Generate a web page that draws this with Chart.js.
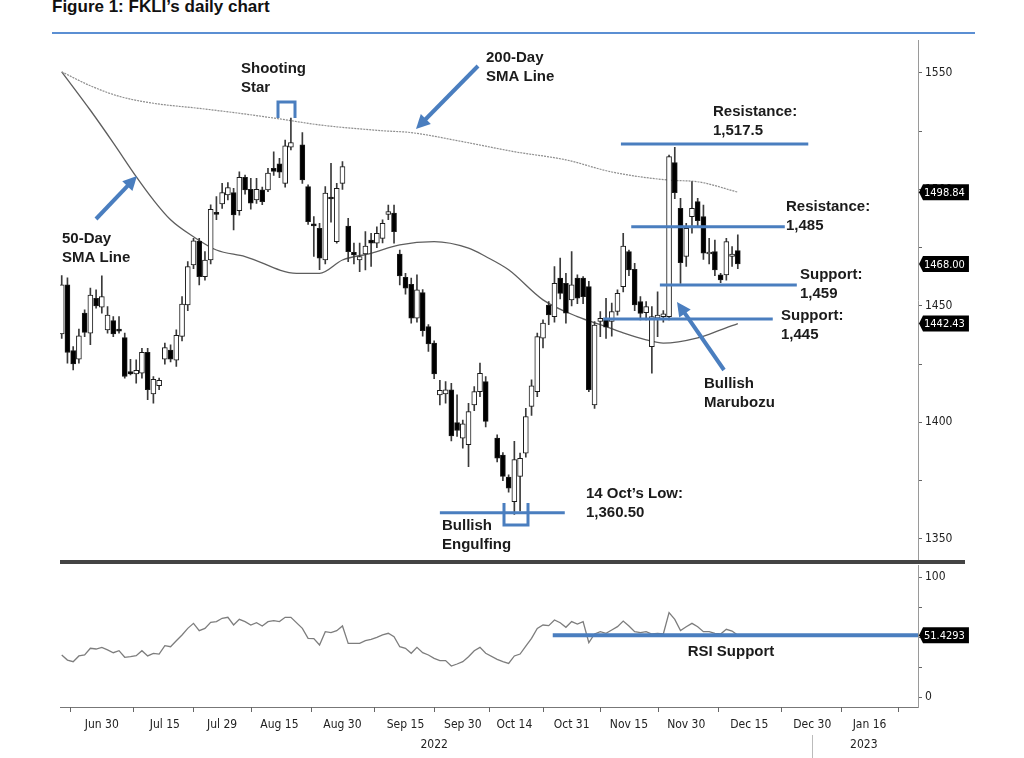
<!DOCTYPE html>
<html>
<head>
<meta charset="utf-8">
<script src="https://cdn.jsdelivr.net/npm/chart.js@4.4.0/dist/chart.umd.min.js"></script>
<style>
  body { margin: 0; background: #fff; width: 1024px; height: 758px; overflow: hidden; position: relative; }
  #title { position: absolute; left: 52px; top: -2px; font: bold 17px/17px "Liberation Sans", Arial, sans-serif; color: #111; }
  #rule { position: absolute; left: 52px; top: 32px; width: 923px; height: 2px; background: #5b8fd3; }
  #main { position: absolute; left: 0; top: 0; }
  #rsi { position: absolute; left: 0; top: 550px; }
  #sep { position: absolute; left: 60px; top: 560px; width: 905px; height: 4px; background: #444; }
</style>
</head>
<body>
<div id="title">Figure 1: FKLI’s daily chart</div>
<div id="rule"></div>
<canvas id="main" width="1024" height="571"></canvas>
<canvas id="rsi" width="1024" height="208"></canvas>
<div id="sep"></div>

<script>
// daily candles, in trading order
var opens = [1438, 1459, 1430.8, 1427.1, 1446.9, 1438.3, 1453.3, 1449.4, 1439.7, 1443.7,
  1439.5, 1436.4, 1421.8, 1420.8, 1421.1, 1430.1, 1412.2, 1415.7, 1427.1, 1431,
  1426.7, 1436.9, 1450.4, 1467.6, 1477.8, 1462.6, 1469.7, 1489.8, 1493.8, 1497.6,
  1498.6, 1490.9, 1505.2, 1500.1, 1495.5, 1499.8, 1499.8, 1509.1, 1511, 1502.6,
  1518.2,
  1519.1, 1501.2, 1485.2, 1483.3, 1469.7, 1496.5, 1477.6, 1502.6, 1484.3,
  1473, 1469.7, 1472.3, 1478.3, 1476.9, 1479, 1489.3, 1489.8, 1472.3,
  1462.3, 1459.3, 1444.7, 1455.7, 1441.1, 1434, 1411.8, 1412.2, 1414, 1399.9,
  1393.2, 1390.4, 1407.5, 1413.2, 1417.5, 1393.2, 1386, 1376.5, 1366, 1376.8,
  1386.8, 1406.8, 1413.2, 1436.1, 1450.4, 1445.4, 1461.9, 1459.7, 1452.6, 1461.9,
  1461.9, 1458.3, 1407.5, 1443.3, 1444, 1443.3, 1447.6, 1458.3, 1473.3, 1465.7,
  1451.9, 1447.1, 1432.5, 1444.7, 1445.4, 1445.4, 1511.5, 1491.9, 1471.2, 1488.3,
  1494.8, 1488.3, 1472.3, 1473.3, 1463.3, 1463.3, 1471.2, 1473.7];
var highs = [1463, 1462, 1432.5, 1440, 1448.3, 1457.6, 1456.9, 1462.9, 1449.7, 1445.4,
  1445.4, 1438.3, 1427.1, 1426.8, 1431.8, 1431.8, 1419.7, 1419, 1434, 1433.3,
  1439.7, 1454, 1469, 1479, 1479, 1473.3, 1493.4, 1496.9, 1502.6, 1502.9,
  1500.5, 1507.6, 1506.2, 1504.8, 1504.8, 1501, 1509.1, 1516.2, 1513.4, 1521.2,
  1530.6,
  1524.4, 1502, 1488.3, 1485.5, 1501.2, 1511.2, 1502.6, 1512, 1487.6,
  1477, 1477, 1481.9, 1481.2, 1484, 1486.9, 1493.3, 1493.3, 1474,
  1464, 1461.9, 1463.3, 1457, 1442, 1435, 1418, 1417.5, 1416.8, 1411.8,
  1401, 1408.2, 1415.4, 1425.4, 1419.7, 1394.6, 1387, 1377.5, 1391.8, 1386.8,
  1406, 1418.3, 1438.3, 1444, 1451.9, 1466.9, 1470.5, 1464, 1473.3, 1463.3,
  1462.6, 1460.5, 1443.3, 1447.6, 1453.3, 1451.2, 1456.9, 1481.2, 1474, 1468.3,
  1454, 1451.9, 1449.7, 1456, 1448, 1514.8, 1518.1, 1496.2, 1485.5, 1503.4,
  1496.2, 1493.3, 1479, 1478.3, 1464, 1479, 1475.5, 1480.5];
var lows = [1436, 1425.4, 1422.5, 1425.4, 1436.8, 1433.3, 1449, 1446.9, 1438.3, 1436.8,
  1438.3, 1419, 1420.4, 1416.8, 1419, 1409.7, 1408.2, 1414, 1425, 1426,
  1424, 1435, 1448, 1466, 1459, 1461, 1468, 1487, 1491.9, 1495.5,
  1482.6, 1489, 1498, 1491.5, 1494, 1493.5, 1499, 1506, 1505, 1501,
  1517,
  1502.6, 1485, 1471.2, 1465.5, 1468, 1486, 1476.9, 1500, 1469,
  1468, 1464.7, 1465.4, 1466.9, 1475, 1477, 1487, 1476.9, 1459,
  1455, 1442.6, 1443, 1437, 1430.5, 1418.8, 1407.5, 1408.2, 1392, 1394,
  1388.9, 1381, 1405, 1411, 1398, 1383, 1375, 1370, 1360.5, 1362,
  1385, 1403, 1411, 1432, 1441.9, 1443, 1453, 1442.6, 1450, 1451,
  1451, 1413.2, 1406, 1436.8, 1436, 1437, 1446, 1456, 1463, 1448,
  1444, 1444, 1421.1, 1436.8, 1443, 1444, 1496, 1459.7, 1466.9, 1481.2,
  1484, 1470, 1468, 1463, 1460, 1461, 1467, 1466];
var closes = [1459, 1430, 1425.1, 1437.1, 1438.6, 1454.6, 1450, 1454, 1446.1, 1438,
  1439.2, 1419.7, 1420.8, 1422.3, 1430.1, 1414, 1418.5, 1418, 1432.1, 1427.1,
  1437.4, 1450.8, 1466.9, 1477.9, 1462.5, 1469.7, 1491.5, 1489.3, 1498.6, 1500.8,
  1489.1, 1505.2, 1499.8, 1494.1, 1500.1, 1494.8, 1507, 1507.7, 1507.4, 1518.7,
  1520.1,
  1504.1, 1486.2, 1484.3, 1470.5, 1498.4, 1495.9, 1500.5, 1509.8, 1473.3,
  1471.9, 1471.2, 1475.7, 1476.9, 1481.2, 1485.5, 1490.5, 1481.9, 1462.9,
  1457.6, 1444.7, 1456.9, 1439.4, 1433.7, 1420.8, 1413.7, 1414, 1394.2, 1396.5,
  1399.4, 1404.6, 1413.2, 1421.1, 1400.4, 1384.6, 1376.8, 1371.7, 1384, 1384.6,
  1402.5, 1415.7, 1436.8, 1442.6, 1446.1, 1459.7, 1455.4, 1446.9, 1459, 1453.3,
  1454, 1414, 1441.8, 1444.7, 1440.9, 1447.6, 1455.4, 1475.7, 1465.4, 1450.4,
  1446.8, 1449.7, 1445.4, 1446.1, 1446.6, 1514.1, 1498.6, 1468.6, 1483.3, 1491.9,
  1486.6, 1472.6, 1473, 1465.4, 1461.1, 1477.6, 1472.3, 1468];
// RSI, one value per candle
var rsi = [35, 30.8, 29.4, 34.2, 35, 40.6, 40, 41.4, 39.2, 36.9,
  38.6, 33.1, 33.6, 34.4, 38.6, 34.2, 36.4, 35.8, 42.8, 41.9,
  46.9, 51.7, 57.2, 61.4, 55.3, 57.2, 62.2, 62.8, 65.6, 66.4,
  60, 64.7, 62.8, 60, 61.9, 59.2, 62.8, 63.6, 62.8, 66.4,
  66.4,
  57.2, 48.9, 48.6, 43.3, 54.4, 53.6, 55.3, 59.2, 44.7,
  44.7, 44.7, 46.9, 48, 49.7, 51.7, 53.1, 50.3, 41.9,
  40.6, 36.4, 41.4, 36.9, 35, 32.2, 30.3, 30.3, 25.8, 27.5,
  29.4, 33.6, 38.6, 41.4, 36.4,
  31.4, 29.4, 28, 34.2, 35.8, 42.5, 48.9, 57.2, 60, 59.5,
  64.2, 61.9, 58.1, 62.8, 60.8, 62.8, 45.3, 52.5, 54.4, 53.1,
  55.8, 58.6, 63.3, 59.2, 54.4, 53.6, 54.4, 52.5, 53.1, 52.5,
  70.3, 64.7, 55.3, 58.6, 61.4, 58.6, 54.4, 54.4, 53.1, 52.5,
  56.4, 55, 51.4293];
// empty trading slots on the axis (holidays)
var gapSlots = [41, 75];

var sma50Slots = [0, 5, 9, 13, 16, 19, 23, 27, 32, 41, 45, 49, 54, 59, 65, 71, 74, 78, 84, 90, 95, 98, 102, 105, 111, 115, 118];
var sma50 = [1550.5, 1534, 1520, 1505.5, 1495.5, 1487, 1479.7, 1474, 1471.2, 1464, 1464, 1469.7, 1472.6, 1476.2,
  1477.6, 1474.8, 1471.2, 1465.5, 1452.6, 1445.4, 1441.1, 1438.4, 1435.4, 1434, 1436.3, 1439.7, 1442.43];
var sma200Slots = [0, 5, 10, 16, 24, 31, 38, 45, 56, 61, 70, 79, 88, 96, 106, 111, 118];
var sma200 = [1550.5, 1544.5, 1540, 1537, 1534.8, 1532.7, 1530.3, 1527.7, 1525.2, 1524.4, 1520.5, 1516.2,
  1512.7, 1507.5, 1504, 1503.3, 1498.84];

var tickSlots = [7, 18, 28, 38, 49, 60, 70, 79, 89, 99, 109, 120, 131, 141];
var tickLabels = ['Jun 30', 'Jul 15', 'Jul 29', 'Aug 15', 'Aug 30', 'Sep 15', 'Sep 30', 'Oct 14', 'Oct 31',
  'Nov 15', 'Nov 30', 'Dec 15', 'Dec 30', 'Jan 16'];
var yearSlots = [65, 140];
var yearLabels = ['2022', '2023'];
var priceTicks = [1350, 1375, 1400, 1425, 1450, 1475, 1500, 1525, 1550];
var rsiTicks = [0, 25, 50, 75, 100];

// analyst's drawn levels: price, from slot, to slot
var levels = [
  { value: 1519.5, from: 97.6, to: 130.3 },
  { value: 1484, from: 99.4, to: 126.2 },
  { value: 1459, from: 104.4, to: 128.3 },
  { value: 1444.4, from: 94.5, to: 124.1 },
  { value: 1361.2, from: 66, to: 87.8 }
];
var rsiSupport = { value: 51.4, from: 85.7 };

var slots = [];
for (var s = 0; slots.length < closes.length; s++) {
  if (gapSlots.indexOf(s) < 0) slots.push(s);
}

var xMin = -0.3, xMax = 149.45;
var blue = '#4a7ebf';
var axisFont = { family: '"Liberation Sans Narrow", "DejaVu Sans Condensed", "Liberation Sans", sans-serif', size: 12 };
var noteFont = 'bold 15px "Liberation Sans", Arial, sans-serif';
Chart.defaults.color = '#222';
Chart.defaults.font = axisFont;

function arrow(ctx, x1, y1, x2, y2) {
  var a = Math.atan2(y2 - y1, x2 - x1), h = 14, w = 7;
  ctx.strokeStyle = blue;
  ctx.fillStyle = blue;
  ctx.lineWidth = 4;
  ctx.beginPath();
  ctx.moveTo(x1, y1);
  ctx.lineTo(x2 - Math.cos(a) * h * 0.8, y2 - Math.sin(a) * h * 0.8);
  ctx.stroke();
  ctx.beginPath();
  ctx.moveTo(x2, y2);
  ctx.lineTo(x2 - h * Math.cos(a) + w * Math.sin(a), y2 - h * Math.sin(a) - w * Math.cos(a));
  ctx.lineTo(x2 - h * Math.cos(a) - w * Math.sin(a), y2 - h * Math.sin(a) + w * Math.cos(a));
  ctx.closePath();
  ctx.fill();
}

function valueBox(ctx, xl, yc, txt) {
  ctx.font = '11px ' + axisFont.family;
  var w = ctx.measureText(txt).width;
  ctx.fillStyle = '#000';
  ctx.beginPath();
  ctx.moveTo(xl + 1, yc);
  ctx.lineTo(xl + 5, yc - 8);
  ctx.lineTo(xl + w + 10, yc - 8);
  ctx.lineTo(xl + w + 10, yc + 8);
  ctx.lineTo(xl + 5, yc + 8);
  ctx.closePath();
  ctx.fill();
  ctx.fillStyle = '#fff';
  ctx.textAlign = 'left';
  ctx.textBaseline = 'middle';
  ctx.fillText(txt, xl + 6, yc + 1);
}

function notes(ctx, list) {
  ctx.font = noteFont;
  ctx.fillStyle = '#1b1b1b';
  ctx.textAlign = 'left';
  ctx.textBaseline = 'alphabetic';
  list.forEach(function (n) {
    n.lines.forEach(function (t, k) { ctx.fillText(t, n.x, n.y + k * 19); });
  });
}

// annotations on the price panel
var priceNotes = {
  id: 'priceNotes',
  afterDraw: function (chart) {
    var ctx = chart.ctx, x = chart.scales.x, y = chart.scales.y;
    ctx.save();
    ctx.strokeStyle = blue;
    ctx.lineWidth = 3;
    levels.forEach(function (l) {
      var py = y.getPixelForValue(l.value);
      ctx.beginPath();
      ctx.moveTo(x.getPixelForValue(l.from), py);
      ctx.lineTo(x.getPixelForValue(l.to), py);
      ctx.stroke();
    });
    // shooting star bracket
    ctx.beginPath();
    ctx.moveTo(278, 118); ctx.lineTo(278, 102); ctx.lineTo(295, 102); ctx.lineTo(295, 118);
    ctx.stroke();
    // 14 Oct low bracket
    ctx.beginPath();
    ctx.moveTo(504, 503); ctx.lineTo(504, 525); ctx.lineTo(528, 525); ctx.lineTo(528, 503);
    ctx.stroke();

    arrow(ctx, 478, 66, 416, 129);
    arrow(ctx, 96, 219, 137, 176);
    arrow(ctx, 724, 370, 677, 302);

    notes(ctx, [
      { lines: ['Shooting', 'Star'], x: 241, y: 73 },
      { lines: ['200-Day', 'SMA Line'], x: 486, y: 62 },
      { lines: ['50-Day', 'SMA Line'], x: 62, y: 243 },
      { lines: ['Resistance:', '1,517.5'], x: 713, y: 116 },
      { lines: ['Resistance:', '1,485'], x: 786, y: 211 },
      { lines: ['Support:', '1,459'], x: 800, y: 279 },
      { lines: ['Support:', '1,445'], x: 781, y: 320 },
      { lines: ['Bullish', 'Marubozu'], x: 704, y: 388 },
      { lines: ['14 Oct’s Low:', '1,360.50'], x: 586, y: 498 },
      { lines: ['Bullish', 'Engulfing'], x: 442, y: 530 }
    ]);

    var right = chart.chartArea.right;
    valueBox(ctx, right, y.getPixelForValue(sma200[sma200.length - 1]), sma200[sma200.length - 1].toFixed(2));
    valueBox(ctx, right, y.getPixelForValue(closes[closes.length - 1]), closes[closes.length - 1].toFixed(2));
    valueBox(ctx, right, y.getPixelForValue(sma50[sma50.length - 1]), sma50[sma50.length - 1].toFixed(2));
    ctx.restore();
  }
};

var rsiNotes = {
  id: 'rsiNotes',
  afterDraw: function (chart) {
    var ctx = chart.ctx, x = chart.scales.x, y = chart.scales.y, area = chart.chartArea;
    ctx.save();
    var py = y.getPixelForValue(rsiSupport.value);
    ctx.strokeStyle = blue;
    ctx.lineWidth = 4;
    ctx.beginPath();
    ctx.moveTo(x.getPixelForValue(rsiSupport.from), py);
    ctx.lineTo(area.right, py);
    ctx.stroke();

    ctx.font = noteFont;
    ctx.fillStyle = '#1b1b1b';
    ctx.textAlign = 'center';
    ctx.fillText('RSI Support', 731, 106);

    // small ticks between the date labels
    ctx.strokeStyle = '#666';
    ctx.lineWidth = 1;
    var step = tickSlots[1] - tickSlots[0];
    var marks = [tickSlots[0] - step / 2];
    for (var i = 0; i < tickSlots.length; i++) {
      var nxt = i + 1 < tickSlots.length ? tickSlots[i + 1] : tickSlots[i] + 10;
      marks.push((tickSlots[i] + nxt) / 2);
    }
    marks.forEach(function (m) {
      var px = Math.round(x.getPixelForValue(m)) + 0.5;
      if (px < area.left || px > area.right) return;
      ctx.beginPath();
      ctx.moveTo(px, area.bottom);
      ctx.lineTo(px, area.bottom + 5);
      ctx.stroke();
    });

    ctx.font = '12px ' + axisFont.family;
    ctx.fillStyle = '#222';
    ctx.textAlign = 'center';
    ctx.textBaseline = 'middle';
    yearLabels.forEach(function (t, k) {
      ctx.fillText(t, x.getPixelForValue(yearSlots[k]), area.bottom + 38);
    });
    var sx = Math.round(x.getPixelForValue(tickSlots[12])) + 0.5;
    ctx.strokeStyle = '#bbb';
    ctx.beginPath();
    ctx.moveTo(sx, area.bottom + 28);
    ctx.lineTo(sx, chart.height);
    ctx.stroke();

    valueBox(ctx, area.right, y.getPixelForValue(rsi[rsi.length - 1]), rsi[rsi.length - 1].toFixed(4));
    ctx.restore();
  }
};

window.onload = function () {
  new Chart(document.getElementById('main'), {
    type: 'bar',
    data: {
      datasets: [{
        type: 'line',
        data: sma200Slots.map(function (s, i) { return { x: s, y: sma200[i] }; }),
        borderColor: '#8e8e8e',
        borderWidth: 1.2,
        borderDash: [2, 1],
        pointRadius: 0,
        cubicInterpolationMode: 'monotone',
        order: 3
      }, {
        type: 'line',
        data: sma50Slots.map(function (s, i) { return { x: s, y: sma50[i] }; }),
        borderColor: '#5e5e5e',
        borderWidth: 1.3,
        pointRadius: 0,
        cubicInterpolationMode: 'monotone',
        order: 3
      }, {
        // wicks
        data: slots.map(function (s, i) { return { x: s, y: [lows[i], highs[i]] }; }),
        backgroundColor: '#3a3a3a',
        barThickness: 1,
        grouped: false,
        order: 2
      }, {
        // bodies
        data: slots.map(function (s, i) { return { x: s, y: [opens[i], closes[i]] }; }),
        backgroundColor: closes.map(function (c, i) { return c >= opens[i] ? '#fff' : '#000'; }),
        borderColor: '#1a1a1a',
        borderWidth: 1,
        borderSkipped: false,
        barThickness: 5,
        minBarLength: 2,
        grouped: false,
        order: 1
      }]
    },
    options: {
      responsive: false,
      animation: false,
      devicePixelRatio: 1,
      layout: { padding: { left: 60, top: 40, right: 0, bottom: 10 } },
      plugins: { legend: { display: false }, tooltip: { enabled: false } },
      scales: {
        x: { type: 'linear', display: false, min: xMin, max: xMax, offset: false },
        y: {
          position: 'right',
          min: 1340.56,
          max: 1564.16,
          afterFit: function (scale) { scale.width = 106; },
          afterBuildTicks: function (scale) {
            scale.ticks = priceTicks.map(function (v) { return { value: v }; });
          },
          grid: { drawOnChartArea: false, tickLength: 4, color: '#666' },
          border: { color: '#9a9a9a' },
          ticks: {
            padding: 3,
            autoSkip: false,
            callback: function (v) { return v % 50 === 0 ? v : ''; }
          }
        }
      }
    },
    plugins: [priceNotes]
  });

  new Chart(document.getElementById('rsi'), {
    type: 'line',
    data: {
      datasets: [{
        data: slots.map(function (s, i) { return { x: s, y: rsi[i] }; }),
        borderColor: '#7d7d7d',
        borderWidth: 1.3,
        pointRadius: 0
      }]
    },
    options: {
      responsive: false,
      animation: false,
      devicePixelRatio: 1,
      layout: { padding: { left: 60, top: 15, right: 0, bottom: 0 } },
      plugins: { legend: { display: false }, tooltip: { enabled: false } },
      scales: {
        x: {
          type: 'linear',
          min: xMin,
          max: xMax,
          offset: false,
          afterFit: function (scale) { scale.height = 51; },
          afterBuildTicks: function (scale) {
            scale.ticks = tickSlots.map(function (v) { return { value: v }; });
          },
          grid: { display: false },
          border: { color: '#777' },
          ticks: {
            padding: 3,
            autoSkip: false,
            maxRotation: 0,
            callback: function (v) {
              var k = tickSlots.indexOf(v);
              return k >= 0 ? tickLabels[k] : '';
            }
          }
        },
        y: {
          position: 'right',
          min: -8.33,
          max: 110,
          afterFit: function (scale) { scale.width = 106; },
          afterBuildTicks: function (scale) {
            scale.ticks = rsiTicks.map(function (v) { return { value: v }; });
          },
          grid: { drawOnChartArea: false, tickLength: 4, color: '#666' },
          border: { color: '#9a9a9a' },
          ticks: {
            padding: 3,
            autoSkip: false,
            callback: function (v) { return v === 0 || v === 100 ? v : ''; }
          }
        }
      }
    },
    plugins: [rsiNotes]
  });
};
</script>
</body>
</html>
